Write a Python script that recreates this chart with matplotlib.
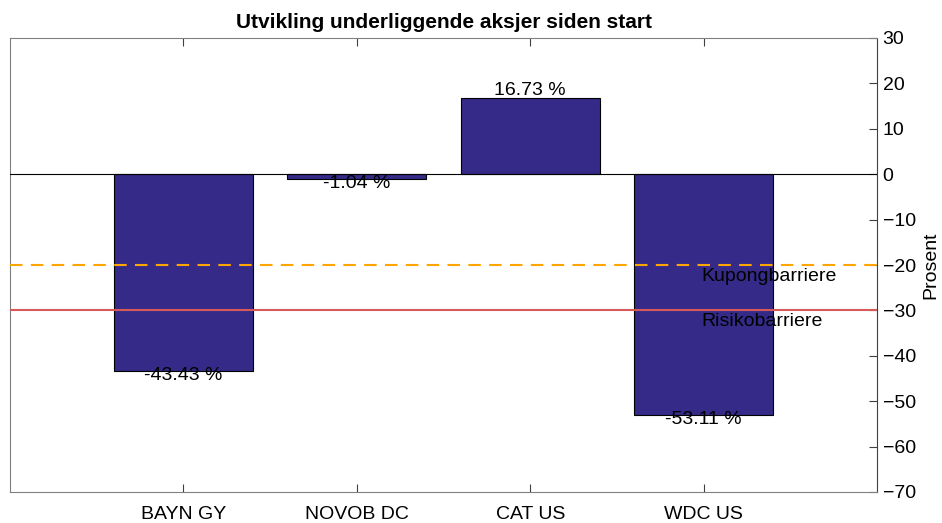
import numpy as np
import matplotlib.pyplot as plt

plt.rcParams['font.family'] = ['Liberation Sans', 'DejaVu Sans']

aksjer = ['BAYN GY', 'NOVOB DC', 'CAT US', 'WDC US']
utvikling = [-43.43, -1.04, 16.73, -53.11]
kupong = -20
risiko = -30

fig = plt.figure(figsize=(9.42, 5.23), dpi=100)
ax = fig.add_axes([10 / 942, 31 / 523, 867 / 942, 454 / 523])

x = np.arange(1, len(aksjer) + 1)
ax.bar(x, utvikling, width=0.8, color='#352a87', edgecolor='black', linewidth=0.8, zorder=2)

# nulllinje og barrierer
ax.axhline(0, color='black', linewidth=0.8, zorder=3)
ax.axhline(kupong, color='#ffa500', linewidth=1.5, linestyle=(0, (6, 4)), zorder=3)
ax.axhline(risiko, color='#d65a5a', linewidth=1.5, zorder=3)
ax.text(3.985, kupong - 0.6, 'Kupongbarriere', ha='left', va='top', fontsize=14, zorder=4)
ax.text(3.985, risiko - 0.6, 'Risikobarriere', ha='left', va='top', fontsize=14, zorder=4)

# verdier paa soylene
for xi, v in zip(x, utvikling):
    if v >= 0:
        ax.text(xi, v - 0.2, '%.2f %%' % v, ha='center', va='bottom', fontsize=14, zorder=4)
    else:
        ax.text(xi, v - 1, '%.2f %%' % v, ha='center', va='center', fontsize=14, zorder=4)

ax.set_xlim(0, 5)
ax.set_ylim(-70, 30)
ax.set_xticks(x)
ax.set_xticklabels(aksjer)
ax.set_yticks(np.arange(-70, 31, 10))
ax.yaxis.tick_right()
ax.yaxis.set_label_position('right')
ax.set_ylabel('Prosent', fontsize=14, labelpad=5)
ax.tick_params(axis='x', direction='in', top=True, length=6, width=0.8, color='#404040',
               labelsize=14, pad=10)
ax.tick_params(axis='y', direction='in', left=False, right=True, length=6, width=0.8,
               color='#404040', labelsize=14, pad=4)
for side in ['left', 'top', 'bottom']:
    ax.spines[side].set_color('#808080')
ax.spines['right'].set_color('#404040')
ax.set_title('Utvikling underliggende aksjer siden start', fontsize=15, fontweight='bold', pad=7)

fig.savefig('out.png', dpi=100)
